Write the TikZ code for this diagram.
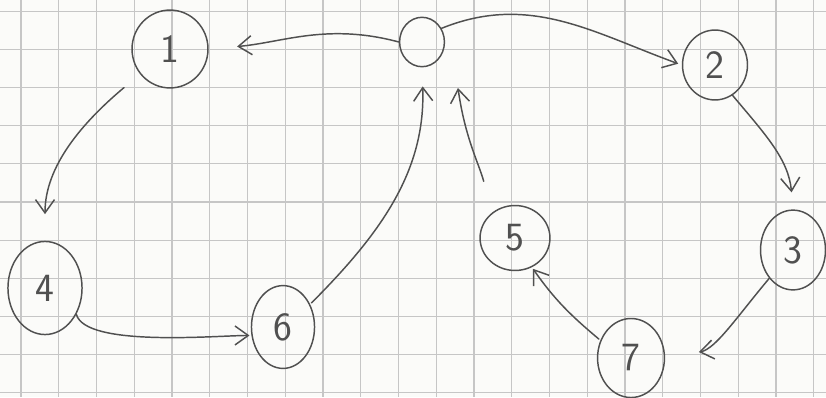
\documentclass[tikz,border=0pt]{standalone}
\usepackage{tikz}
\usetikzlibrary{arrows.meta, shapes.geometric}
\definecolor{pen}{HTML}{505050}
\definecolor{paper}{HTML}{FBFBF9}
\definecolor{gridgray}{HTML}{C6C6C6}

\begin{document}
\begin{tikzpicture}[x=0.026316cm, y=-0.026316cm, font=\sffamily\fontsize{30}{30}\selectfont,
    >={Straight Barb[length=3.5mm,width=5mm]}, line width=1.1pt,
    state/.style={ellipse, draw=pen, text=pen, inner sep=0pt},
    edge/.style={->, draw=pen, line cap=round},
    gridline/.style={gridgray, line width=0.8pt}]
    \fill[paper] (0,0) rectangle (826,397);
    \useasboundingbox (0,0) rectangle (826,397);
    \foreach \k in {0,...,21} \draw[gridline] (21+37.75*\k,0) -- ++(0,397);
    \foreach \k in {0,...,10} \draw[gridline] (0,11.5+38.1*\k) -- ++(826,0);

    \node[state, minimum width=1.18cm, minimum height=1.3cm] (n0) at (422,42) {};
    \node[state, minimum width=2.0cm, minimum height=2.05cm] (n1) at (170,49) {1};
    \node[state, minimum width=1.71cm, minimum height=1.84cm] (n2) at (715,65) {2};
    \node[state, minimum width=1.71cm, minimum height=2.1cm] (n3) at (793,250) {3};
    \node[state, minimum width=1.95cm, minimum height=2.45cm] (n4) at (45,288) {4};
    \node[state, minimum width=1.84cm, minimum height=1.71cm] (n5) at (515,238) {5};
    \node[state, minimum width=1.66cm, minimum height=2.18cm] (n6) at (283,327) {6};
    \node[state, minimum width=1.76cm, minimum height=2.08cm] (n7) at (631,358) {7};

    \draw[edge, shorten >=0.75cm] (n0.west) to[out=165, in=5] (n1.east);
    \draw[edge, shorten >=0.1cm] (n0.35) to[out=22, in=160] (n2.west);
    \draw[edge, shorten <=0.55cm, shorten >=0.7cm] (n1.220) to[out=220, in=90] (n4.north);
    \draw[edge, shorten >=0.05cm] (n4.320) to[out=-75, in=180, looseness=0.5] (n6.195);
    \draw[edge, shorten <=0.05cm, shorten >=0.5cm] (n6.40) to[out=45, in=-88] (n0.south);
    \draw[edge, shorten <=0.85cm] (n5.132) to[out=105, in=-82] ([shift={(36,46)}]n0.center);
    \draw[edge, shorten >=0.45cm] (n2.300) to[out=-50, in=95] (n3.north);
    \draw[edge, shorten >=0.9cm] (n3.230) to[out=-130, in=10] (n7.east);
    \draw[edge, shorten <=0.05cm, shorten >=0.05cm] (n7.150) to[out=140, in=-55] (n5.300);
\end{tikzpicture}
\end{document}
